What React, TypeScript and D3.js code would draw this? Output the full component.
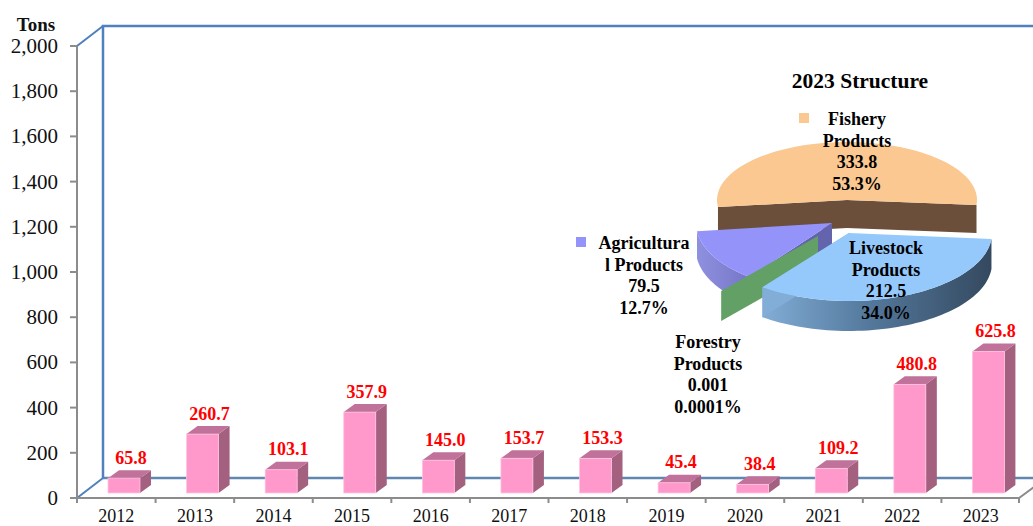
import React from 'react';
import * as d3 from 'd3';

const years = ['2012', '2013', '2014', '2015', '2016', '2017', '2018', '2019', '2020', '2021', '2022', '2023'];
const tons = [65.8, 260.7, 103.1, 357.9, 145.0, 153.7, 153.3, 45.4, 38.4, 109.2, 480.8, 625.8];
const yTicks = [0, 200, 400, 600, 800, 1000, 1200, 1400, 1600, 1800, 2000];

// pie order follows the clockwise order on screen, starting at the right edge
const sliceNames = ['Livestock', 'Forestry', 'Agricultural', 'Fishery'];
const sliceValues = [212.5, 0.001, 79.5, 333.8];

const FONT = "'Liberation Serif', serif";
const y = d3.scaleLinear().domain([0, 2000]).range([498, 46]);
const x = d3.scaleBand<string>().domain(years).range([77, 1020]);
const barW = 32;
const barInset = 31;
const dx = 11;
const dy = -8;
const floorLift = 5;

const wallDx = 26;
const wallDy = -20;

const arcs = d3.pie<number>().sort(null).startAngle((95 * Math.PI) / 180).endAngle((455 * Math.PI) / 180)(sliceValues);

// where each exploded slice sits in the tilted view
const sliceGeo: Record<string, { cx: number; cy: number; rx: number; ry: number; depth: number }> = {
  Fishery: { cx: 847, cy: 200, rx: 130, ry: 58, depth: 28 },
  Livestock: { cx: 849, cy: 233, rx: 143, ry: 68, depth: 30 },
  Forestry: { cx: 818, cy: 236, rx: 160, ry: 69, depth: 30 },
  Agricultural: { cx: 832, cy: 223, rx: 136, ry: 68, depth: 27 },
};

const pt = (name: string, a: number, drop = 0): [number, number] => {
  const g = sliceGeo[name];
  return [g.cx + g.rx * Math.sin(a), g.cy - g.ry * Math.cos(a) + drop];
};
const line = d3.line<[number, number]>();
const arcPts = (name: string, a0: number, a1: number, drop = 0) =>
  d3.range(0, 61).map((i) => pt(name, a0 + ((a1 - a0) * i) / 60, drop));

const arcOf = (name: string) => arcs[sliceNames.indexOf(name)];

const topFace = (name: string) => {
  const s = arcOf(name);
  const g = sliceGeo[name];
  return line([[g.cx, g.cy], ...arcPts(name, s.startAngle, s.endAngle)]) + 'Z';
};
// outer wall: only the part of the rim that faces the viewer
const rimFace = (name: string) => {
  const s = arcOf(name);
  const g = sliceGeo[name];
  const a0 = s.startAngle;
  const a1 = Math.min(s.endAngle, Math.PI * 1.5);
  return line([...arcPts(name, a0, a1), ...arcPts(name, a1, a0, g.depth)]) + 'Z';
};
const cutFace = (name: string, a: number) => {
  const g = sliceGeo[name];
  const p = pt(name, a);
  return line([[g.cx, g.cy], p, [p[0], p[1] + g.depth], [g.cx, g.cy + g.depth]]) + 'Z';
};

const labels = [
  { x: 857, y: 125, lines: ['Fishery', 'Products', '333.8', '53.3%'] },
  { x: 886, y: 254, lines: ['Livestock', 'Products', '212.5', '34.0%'] },
  { x: 644, y: 249, lines: ['Agricultura', 'l Products', '79.5', '12.7%'] },
  { x: 708, y: 348, lines: ['Forestry', 'Products', '0.001', '0.0001%'] },
];

export default function App() {
  const fish = arcOf('Fishery');
  const agri = arcOf('Agricultural');
  const live = arcOf('Livestock');
  const forest = arcOf('Forestry');
  const x0 = x.range()[0];
  const x1 = x.range()[1];
  return (
    <svg width={1033} height={526} style={{ position: 'absolute', left: 0, top: 0, background: '#fff' }} fontFamily={FONT}>
      <defs>
        <linearGradient id="liveRim" x1="0" x2="1" y1="0" y2="0">
          <stop offset="0" stopColor="#82add6" />
          <stop offset="0.45" stopColor="#557a9e" />
          <stop offset="1" stopColor="#34495f" />
        </linearGradient>
        <linearGradient id="agriRim" x1="0" x2="1" y1="0" y2="0">
          <stop offset="0" stopColor="#9090e0" />
          <stop offset="1" stopColor="#7676c8" />
        </linearGradient>
      </defs>

      {/* back wall */}
      <g fill="none">
        <path d={`M${x0 + wallDx},${y(0) + wallDy}H1033`} stroke="#5f87b0" strokeWidth={2.5} />
        <path d={`M${x0 + wallDx},${y(0) + wallDy}V${y(2000) + wallDy}H1033`} stroke="#4f81bd" strokeWidth={2.5} />
        <path d={`M${x0},${y(2000)}L${x0 + wallDx},${y(2000) + wallDy}`} stroke="#4f81bd" strokeWidth={2} />
        <path d={`M${x0},${y(0)}L${x0 + wallDx},${y(0) + wallDy}`} stroke="#4f81bd" strokeWidth={2} />
      </g>

      {/* axes */}
      <g stroke="#8c8c8c" fill="none" strokeWidth={2}>
        <path d={`M${x0},${y(2000)}V${y(0)}H${x1 - 1}L${x1 + 14},${y(0) - 11}`} />
        {yTicks.map((t) => (
          <path key={t} d={`M${x0 - 7},${y(t)}H${x0}`} />
        ))}
        {years.map((d) => (
          <path key={d} d={`M${x(d)},${y(0)}v5`} />
        ))}
        <path d={`M${x1 - 1},${y(0)}v5`} />
      </g>
      <g fontSize={21} fill="#111" textAnchor="end">
        {yTicks.map((t) => (
          <text key={t} x={58} y={y(t) + 7}>
            {d3.format(',')(t)}
          </text>
        ))}
      </g>
      <text x={36} y={31} fontSize={19} fontWeight="bold" textAnchor="middle" fill="#111">
        Tons
      </text>
      <g fontSize={18} fill="#111" textAnchor="middle">
        {years.map((d) => (
          <text key={d} x={x(d)! + x.bandwidth() / 2} y={522}>
            {d}
          </text>
        ))}
      </g>

      {/* bars */}
      {years.map((d, i) => {
        const left = x(d)! + barInset;
        const bottom = y(0) - floorLift;
        const top = bottom - (y(0) - y(tons[i]));
        return (
          <g key={d}>
            <path
              d={`M${left + barW},${top}l${dx},${dy}V${bottom + dy}l${-dx},${-dy}Z`}
              fill="#a3607f"
            />
            <path d={`M${left},${top}l${dx},${dy}h${barW}l${-dx},${-dy}Z`} fill="#c0729a" />
            <rect x={left} y={top} width={barW} height={bottom - top} fill="#ff99cc" stroke="#ffc4e2" strokeWidth={0.75} />
            <text
              x={left + barW / 2 + 7}
              y={top - 14.5}
              fontSize={18}
              fontWeight="bold"
              fill="#ff0000"
              textAnchor="middle"
            >
              {d3.format('.1f')(tons[i])}
            </text>
          </g>
        );
      })}

      {/* pie: fishery */}
      <path
        d={
          line([
            pt('Fishery', fish.startAngle),
            [sliceGeo.Fishery.cx, sliceGeo.Fishery.cy],
            pt('Fishery', fish.endAngle),
            pt('Fishery', fish.endAngle, sliceGeo.Fishery.depth),
            [sliceGeo.Fishery.cx, sliceGeo.Fishery.cy + sliceGeo.Fishery.depth],
            pt('Fishery', fish.startAngle, sliceGeo.Fishery.depth),
          ]) + 'Z'
        }
        fill="#6b4f3a"
      />
      <path d={topFace('Fishery')} fill="#fac890" />

      {/* agricultural */}
      <path d={rimFace('Agricultural')} fill="url(#agriRim)" />
      <path d={cutFace('Agricultural', agri.startAngle)} fill="#6464ac" />
      <path d={topFace('Agricultural')} fill="#9393fa" />

      {/* forestry is a sliver, so only its cut face shows */}
      <path d={cutFace('Forestry', forest.startAngle)} fill="#63a066" />

      {/* livestock */}
      <path d={rimFace('Livestock')} fill="url(#liveRim)" />
      <path d={cutFace('Livestock', live.endAngle)} fill="#82add6" />
      <path d={topFace('Livestock')} fill="#95c9fb" />

      <text x={860} y={88} fontSize={21.5} fontWeight="bold" textAnchor="middle" fill="#000">
        2023 Structure
      </text>
      <rect x={799} y={113} width={10} height={10} fill="#fac890" />
      <rect x={576} y={237} width={10} height={10} fill="#9393fa" />
      <g fontSize={18} fontWeight="bold" fill="#000" textAnchor="middle">
        {labels.map((l) =>
          l.lines.map((t, i) => (
            <text key={l.x + t} x={l.x} y={l.y + i * 21.6}>
              {t}
            </text>
          )),
        )}
      </g>
    </svg>
  );
}
